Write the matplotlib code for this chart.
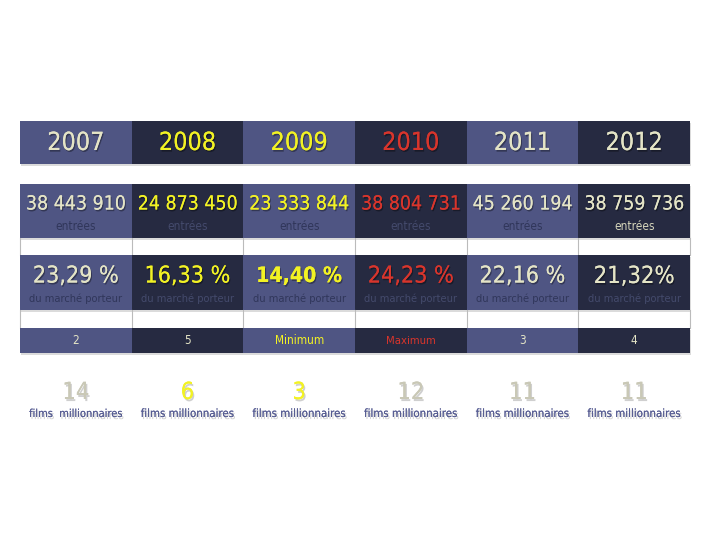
import matplotlib.pyplot as plt
import matplotlib.patheffects as pe
from matplotlib.patches import Rectangle

plt.rcParams['font.family'] = ['DejaVu Sans']
plt.rcParams['font.stretch'] = 'condensed'

# data
years = ['2007', '2008', '2009', '2010', '2011', '2012']
entrees = ['38 443 910', '24 873 450', '23 333 844', '38 804 731', '45 260 194', '38 759 736']
parts = ['23,29 %', '16,33 %', '14,40 %', '24,23 %', '22,16 %', '21,32%']
rangs = ['2', '5', 'Minimum', 'Maximum', '3', '4']
films = ['14', '6', '3', '12', '11', '11']

# colours
light = '#4f5583'
dark = '#262a41'
cream = '#e4e4c6'
yellow = '#f2f224'
red = '#d8352c'
grey_num = '#c9c8b6'
label_col = '#565c92'

col_bg = [light, dark, light, dark, light, dark]
year_col = [cream, yellow, yellow, red, cream, cream]
rang_col = [cream, cream, yellow, red, cream, cream]
film_col = [grey_num, yellow, yellow, grey_num, grey_num, grey_num]
sub_entree = ['#30365a', '#444a6c', '#30365a', '#444a6c', '#30365a', '#d6d6bc']
sub_part = ['#30365a', '#444a6c', '#30365a', '#444a6c', '#30365a', '#444a6c']

fig = plt.figure(figsize=(7.2, 5.4), dpi=100)
ax = fig.add_axes([0, 0, 1, 1])
ax.set_xlim(0, 720)
ax.set_ylim(540, 0)
ax.axis('off')

x0, x1 = 20, 690
w = (x1 - x0) / len(years)

shadow = [pe.withSimplePatchShadow(offset=(0.8, -1.2), shadow_rgbFace='black', alpha=0.35), pe.Normal()]
soft = [pe.withSimplePatchShadow(offset=(1, -1.5), shadow_rgbFace='#888888', alpha=0.4), pe.Normal()]

fitted = []


def band(top, bottom):
    # shadow below the band
    ax.add_patch(Rectangle((x0 + 1, top + 2), x1 - x0, bottom - top, color='#999999', alpha=0.35, lw=0, zorder=1))
    for i in range(len(years)):
        ax.add_patch(Rectangle((x0 + i * w, top), w, bottom - top, color=col_bg[i], lw=0, zorder=2))


def spacer(top, bottom):
    for i in range(len(years) + 1):
        ax.plot([x0 + i * w, x0 + i * w], [top, bottom], color='#bbbbbb', lw=0.8, zorder=2)


def txt(cx, cy, s, maxw, **kw):
    t = ax.text(cx, cy, s, ha='center', va='center', zorder=3, **kw)
    fitted.append((t, maxw))
    return t


# year row
band(121, 164)
for i, y in enumerate(years):
    txt(x0 + (i + 0.5) * w, 143, y, 60, color=year_col[i], fontsize=18, path_effects=shadow)

# entrees row
band(184, 238)
for i, e in enumerate(entrees):
    cx = x0 + (i + 0.5) * w
    txt(cx, 204, e, 100, color=year_col[i], fontsize=17, path_effects=shadow)
    txt(cx, 226, 'entrées', 48, color=sub_entree[i], fontsize=8.5)

spacer(238, 255)

# part de marche row
band(255, 310)
for i, p in enumerate(parts):
    cx = x0 + (i + 0.5) * w
    txt(cx, 276, p, 86, color=year_col[i], fontsize=17,
        fontweight='bold' if i == 2 else 'normal', path_effects=shadow)
    txt(cx, 299, 'du marché porteur', 93, color=sub_part[i], fontsize=8.5)

spacer(310, 328)

# rang row
band(328, 353)
for i, r in enumerate(rangs):
    txt(x0 + (i + 0.5) * w, 341, r, 50, color=rang_col[i], fontsize=8.5)

# films millionnaires
for i, f in enumerate(films):
    cx = x0 + (i + 0.5) * w
    txt(cx, 392, f, 40, color=film_col[i], fontsize=17, path_effects=soft)
    lab = 'films  millionnaires' if i == 0 else 'films millionnaires'
    txt(cx, 414, lab, 95, color=label_col, fontsize=9.5, path_effects=soft)

# shrink any text wider than its cell
fig.canvas.draw()
r = fig.canvas.get_renderer()
for t, maxw in fitted:
    tw = t.get_window_extent(r).width
    if tw > maxw:
        t.set_fontsize(t.get_fontsize() * maxw / tw)

fig.savefig('out.png', dpi=100)
